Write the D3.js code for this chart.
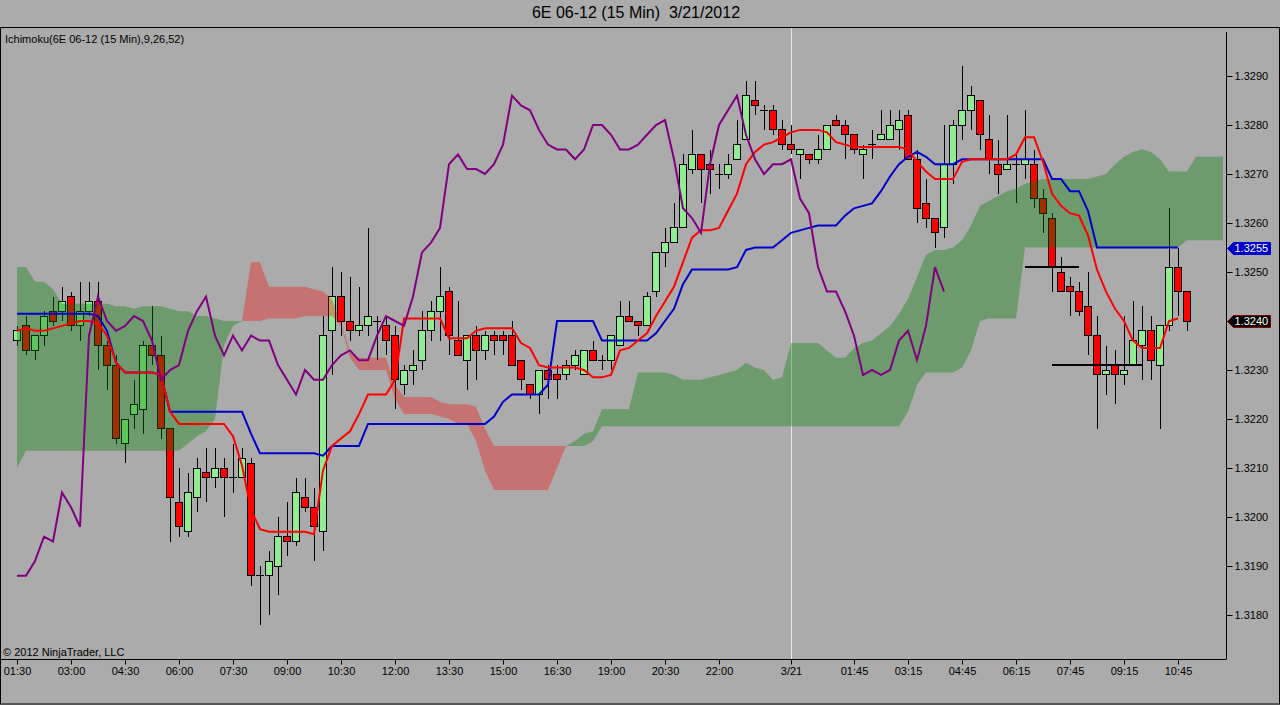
<!DOCTYPE html>
<html>
<head>
<meta charset="utf-8">
<script src="https://cdn.jsdelivr.net/npm/d3@7"></script>
<style>
  body { margin: 0; background: #ababab; }
  svg text { font-family: "Liberation Sans", Arial, sans-serif; }
</style>
</head>
<body>
<script>

// ichimoku chart, 6E 06-12, 15 min bars

const opens = [
  1.3236,1.3239,1.3234,1.3237,1.3242,1.3242,1.3245,1.3239,1.3242,1.3244,
  1.3235,1.3231,1.3215,1.3221,1.3222,1.3235,1.3233,1.3218,1.3203,1.3197,
  1.3204,1.3209,1.3208,1.3210,1.3208,1.3208,1.3211,1.3188,1.3188,1.3190,
  1.3196,1.3195,1.3204,1.3202,1.3197,1.3238,1.3245,1.3240,1.3238,1.3239,
  1.3240,1.3239,1.3237,1.3227,1.3230,1.3232,1.3238,1.3242,1.3246,1.3236,
  1.3232,1.3237,1.3234,1.3237,1.3237,1.3237,1.3232,1.3227,1.3225,1.3230,
  1.3229,1.3229,1.3231,1.3229,1.3234,1.3232,1.3232,1.3235,1.3241,1.3240,
  1.3239,1.3246,1.3254,1.3256,1.3259,1.3271,1.3274,1.3272,1.3270,1.3270,
  1.3273,1.3277,1.3285,1.3283,1.3283,1.3279,1.3276,1.3274,1.3274,1.3273,
  1.3275,1.3281,1.3280,1.3278,1.3274,1.3276,1.3277,1.3277,1.3279,1.3282,
  1.3273,1.3264,1.3261,1.3259,1.3272,1.3280,1.3283,1.3285,1.3277,1.3272,
  1.3271,1.3272,1.3272,1.3272,1.3265,1.3261,1.3250,1.3247,1.3246,1.3243,
  1.3237,1.3229,1.3231,1.3229,1.3231,1.3235,1.3238,1.3231,1.3239,1.3251,
  1.3246
];
const highs = [
  1.3239,1.3241,1.3237,1.3242,1.3245,1.3247,1.3246,1.3248,1.3248,1.3248,
  1.3236,1.3233,1.3220,1.3228,1.3236,1.3243,1.3237,1.3218,1.3210,1.3209,
  1.3212,1.3214,1.3214,1.3212,1.3215,1.3214,1.3212,1.3190,1.3193,1.3200,
  1.3203,1.3208,1.3208,1.3206,1.3241,1.3251,1.3250,1.3249,1.3247,1.3259,
  1.3241,1.3241,1.3239,1.3231,1.3234,1.3242,1.3244,1.3251,1.3247,1.3244,
  1.3237,1.3239,1.3238,1.3238,1.3238,1.3240,1.3232,1.3227,1.3230,1.3231,
  1.3231,1.3232,1.3234,1.3234,1.3236,1.3233,1.3237,1.3244,1.3244,1.3240,
  1.3246,1.3254,1.3259,1.3264,1.3274,1.3279,1.3274,1.3275,1.3272,1.3274,
  1.3281,1.3289,1.3289,1.3284,1.3284,1.3281,1.3280,1.3275,1.3274,1.3278,
  1.3280,1.3282,1.3281,1.3278,1.3276,1.3279,1.3283,1.3283,1.3283,1.3283,
  1.3275,1.3269,1.3261,1.3280,1.3281,1.3292,1.3288,1.3285,1.3282,1.3277,
  1.3282,1.3274,1.3283,1.3275,1.3267,1.3262,1.3253,1.3249,1.3248,1.3250,
  1.3241,1.3235,1.3234,1.3241,1.3244,1.3243,1.3241,1.3239,1.3263,1.3255,
  1.3246
];
const lows = [
  1.3235,1.3233,1.3232,1.3235,1.3239,1.3240,1.3238,1.3236,1.3241,1.3230,
  1.3226,1.3215,1.3211,1.3218,1.3217,1.3231,1.3216,1.3195,1.3196,1.3196,
  1.3201,1.3203,1.3206,1.3200,1.3205,1.3208,1.3186,1.3178,1.3180,1.3184,
  1.3192,1.3194,1.3201,1.3191,1.3193,1.3229,1.3237,1.3236,1.3237,1.3237,
  1.3232,1.3233,1.3222,1.3225,1.3227,1.3230,1.3236,1.3236,1.3233,1.3233,
  1.3226,1.3228,1.3232,1.3233,1.3233,1.3231,1.3226,1.3224,1.3221,1.3224,
  1.3224,1.3228,1.3230,1.3229,1.3232,1.3230,1.3230,1.3235,1.3240,1.3237,
  1.3239,1.3245,1.3251,1.3256,1.3259,1.3270,1.3264,1.3266,1.3267,1.3269,
  1.3273,1.3277,1.3282,1.3279,1.3278,1.3275,1.3274,1.3269,1.3272,1.3272,
  1.3275,1.3280,1.3273,1.3274,1.3269,1.3273,1.3277,1.3277,1.3275,1.3273,
  1.3260,1.3259,1.3255,1.3257,1.3268,1.3277,1.3279,1.3275,1.3270,1.3266,
  1.3271,1.3264,1.3269,1.3263,1.3258,1.3246,1.3246,1.3241,1.3241,1.3233,
  1.3218,1.3225,1.3223,1.3227,1.3231,1.3228,1.3228,1.3218,1.3238,1.3241,
  1.3238
];
const closes = [
  1.3238,1.3234,1.3237,1.3241,1.3240,1.3244,1.3239,1.3242,1.3244,1.3235,
  1.3231,1.3216,1.3220,1.3223,1.3235,1.3233,1.3218,1.3204,1.3198,1.3205,
  1.3210,1.3208,1.3210,1.3208,1.3208,1.3212,1.3188,1.3188,1.3191,1.3196,
  1.3195,1.3205,1.3202,1.3198,1.3237,1.3245,1.3240,1.3238,1.3239,1.3241,
  1.3240,1.3236,1.3228,1.3230,1.3231,1.3238,1.3242,1.3245,1.3237,1.3233,
  1.3237,1.3234,1.3237,1.3236,1.3236,1.3231,1.3228,1.3225,1.3230,1.3228,
  1.3228,1.3231,1.3233,1.3234,1.3232,1.3232,1.3237,1.3241,1.3240,1.3239,
  1.3245,1.3254,1.3256,1.3259,1.3272,1.3274,1.3271,1.3271,1.3270,1.3272,
  1.3276,1.3286,1.3284,1.3283,1.3279,1.3276,1.3275,1.3275,1.3273,1.3275,
  1.3280,1.3280,1.3278,1.3275,1.3275,1.3276,1.3278,1.3280,1.3281,1.3273,
  1.3263,1.3261,1.3258,1.3272,1.3280,1.3283,1.3286,1.3278,1.3273,1.3270,
  1.3272,1.3272,1.3273,1.3265,1.3262,1.3251,1.3246,1.3246,1.3242,1.3237,
  1.3229,1.3230,1.3229,1.3230,1.3236,1.3238,1.3232,1.3239,1.3251,1.3246,
  1.3240
];

// conversion line (9)
const tenkan = [
  1.3238,1.32385,1.3238,1.3238,1.32385,1.3239,1.32395,1.3240,1.3240,1.32395,
  1.3237,1.32315,1.32295,1.32295,1.32295,1.32295,1.3229,1.32215,1.3219,1.3219,
  1.3219,1.3219,1.3219,1.3219,1.32165,1.32105,1.32015,1.31975,1.3197,1.3197,
  1.3197,1.3197,1.3197,1.31965,1.32095,1.32145,1.3216,1.32175,1.3221,1.3225,
  1.3225,1.3225,1.3228,1.32405,1.32405,1.32405,1.32405,1.32405,1.32365,1.32365,
  1.32365,1.3238,1.32385,1.32385,1.32385,1.32385,1.32355,1.32345,1.3231,1.32305,
  1.32305,1.32305,1.32305,1.3230,1.32285,1.32285,1.3229,1.3234,1.32345,1.3236,
  1.32375,1.3241,1.3244,1.3247,1.3252,1.3257,1.32585,1.32585,1.3259,1.32625,
  1.3266,1.3272,1.32745,1.3276,1.32765,1.32775,1.32785,1.3279,1.3279,1.3279,
  1.32785,1.32765,1.3276,1.32755,1.32755,1.32755,1.32755,1.32755,1.32755,1.3275,
  1.32725,1.32705,1.3269,1.3269,1.3269,1.32725,1.3273,1.3273,1.3273,1.3273,
  1.3273,1.3274,1.32775,1.32775,1.32725,1.3266,1.32635,1.3262,1.32615,1.32575,
  1.32505,1.3246,1.32425,1.3240,1.3236,1.32345,1.32345,1.32345,1.3240,1.32405
];

// base line (26)
const kijun = [
  1.32415,1.32415,1.32415,1.32415,1.32415,1.32415,1.32415,1.32415,1.32415,1.3241,
  1.3238,1.32315,1.32295,1.32295,1.32295,1.32295,1.3229,1.32215,1.32215,1.32215,
  1.32215,1.32215,1.32215,1.32215,1.32215,1.32215,1.3217,1.3213,1.3213,1.3213,
  1.3213,1.3213,1.3213,1.3213,1.32125,1.32145,1.32145,1.32145,1.32145,1.3219,
  1.3219,1.3219,1.3219,1.3219,1.3219,1.3219,1.3219,1.3219,1.3219,1.3219,
  1.3219,1.3219,1.3219,1.32205,1.32235,1.3225,1.3225,1.3225,1.3225,1.3227,
  1.3240,1.3240,1.3240,1.3240,1.3240,1.3236,1.3236,1.3236,1.3236,1.3236,
  1.3236,1.32375,1.3240,1.32425,1.32475,1.32505,1.32505,1.32505,1.32505,1.32505,
  1.3251,1.32545,1.3255,1.3255,1.3255,1.32565,1.3258,1.32585,1.3259,1.32595,
  1.32595,1.32595,1.32615,1.3263,1.32635,1.3264,1.32665,1.32695,1.3272,1.32735,
  1.32745,1.32735,1.3272,1.3272,1.3272,1.3273,1.3273,1.3273,1.3273,1.3273,
  1.3273,1.3273,1.3273,1.3273,1.3273,1.3269,1.3269,1.32665,1.32665,1.32625,
  1.3255,1.3255,1.3255,1.3255,1.3255,1.3255,1.3255,1.3255,1.3255,1.3255
];

// leading spans, already shifted 26 bars ahead
const spanA = [
  1.3251,1.3251,1.3248,1.3248,1.32465,1.32435,1.32435,1.32435,1.32435,1.32435,
  1.32435,1.3243,1.3243,1.32425,1.3243,1.3243,1.3243,1.32425,1.3242,1.3242,
  1.3241,1.3241,1.32405,1.3240,1.3240,1.3240,1.3240,1.3240,1.32405,1.32405,
  1.32405,1.32405,1.3241,1.3241,1.3241,1.3241,1.3239,1.32325,1.3230,1.3230,
  1.3230,1.3230,1.3224,1.3221,1.3221,1.3221,1.3221,1.32205,1.3220,1.3219,
  1.3219,1.32155,1.32095,1.32055,1.32055,1.32055,1.32055,1.32055,1.32055,1.32055,
  1.3210,1.32145,1.32155,1.3217,1.32175,1.3222,1.3222,1.3222,1.3222,1.32295,
  1.32295,1.32295,1.32295,1.3229,1.3228,1.3228,1.3228,1.32285,1.3229,1.32295,
  1.3230,1.32315,1.32305,1.3230,1.3228,1.32285,1.32355,1.32355,1.32355,1.32355,
  1.3234,1.32325,1.32325,1.32345,1.32355,1.3236,1.32375,1.3239,1.32415,1.32445,
  1.3249,1.32535,1.32545,1.32545,1.3255,1.32565,1.32595,1.32635,1.32645,1.32655,
  1.32665,1.3267,1.3268,1.32685,1.3269,1.3269,1.3269,1.3269,1.3269,1.3269,
  1.32695,1.3270,1.3272,1.32735,1.32745,1.3275,1.32745,1.3273,1.32705,1.32705,
  1.32705,1.32735,1.32735,1.32735,1.32735
];
const spanB = [
  1.3210,1.32135,1.32135,1.32135,1.32135,1.32135,1.32135,1.32135,1.32135,1.32135,
  1.32135,1.32135,1.32135,1.32135,1.32135,1.32135,1.32135,1.32135,1.32135,1.3215,
  1.32165,1.32175,1.3220,1.3235,1.3239,1.3240,1.3252,1.3252,1.3247,1.3247,
  1.3247,1.3247,1.3247,1.32465,1.3246,1.32445,1.32395,1.3234,1.32325,1.32325,
  1.32325,1.32325,1.3227,1.32245,1.32245,1.32245,1.32245,1.32235,1.3223,1.3223,
  1.3223,1.32225,1.3218,1.32145,1.32145,1.32145,1.32145,1.32145,1.32145,1.32145,
  1.32145,1.32145,1.32145,1.32145,1.32155,1.32185,1.32185,1.32185,1.32185,1.32185,
  1.32185,1.32185,1.32185,1.32185,1.32185,1.32185,1.32185,1.32185,1.32185,1.32185,
  1.32185,1.32185,1.32185,1.32185,1.32185,1.32185,1.32185,1.32185,1.32185,1.32185,
  1.32185,1.32185,1.32185,1.32185,1.32185,1.32185,1.32185,1.32185,1.32185,1.32215,
  1.3227,1.32295,1.32295,1.32295,1.32295,1.32305,1.3234,1.3240,1.32405,1.32405,
  1.32405,1.32405,1.3255,1.3255,1.3255,1.3255,1.3255,1.3255,1.3255,1.3255,
  1.3255,1.3255,1.3255,1.3255,1.3255,1.3255,1.3255,1.3255,1.3255,1.3255,
  1.32565,1.32565,1.32565,1.32565,1.32565
];

// hand drawn horizontal lines: price, first bar, last bar
const drawnLevels = [1.3251, 1.3231];
const drawnFrom = [112, 115];
const drawnTo = [118, 125];

const priceTicks = [1.3180,1.3190,1.3200,1.3210,1.3220,1.3230,1.3240,1.3250,1.3260,1.3270,1.3280,1.3290];
const timeTickBars = [0,6,12,18,24,30,36,42,48,54,60,66,72,78,86,93,99,105,111,117,123,129];
const timeLabels = ["01:30","03:00","04:30","06:00","07:30","09:00","10:30","12:00","13:30","15:00","16:30",
  "19:00","20:30","22:00","3/21","01:45","03:15","04:45","06:15","07:45","09:15","10:45"];
const sessionBreakBar = 86;


function drawChart() {
  const width = 1280, height = 705;
  const plot = {left: 1, right: 1226, top: 28, bottom: 659};

  const svg = d3.select("body").append("svg")
    .attr("width", width)
    .attr("height", height);

  svg.append("rect")
    .attr("width", width).attr("height", height)
    .attr("fill", "#ababab");

  // scales: one bar every 9 px, price 49 px per 10 pips
  const x = d3.scaleLinear().domain([0, 134]).range([17, 1223]);
  const y = d3.scaleLinear().domain([1.3180, 1.3290]).range([615, 76]);

  svg.append("clipPath").attr("id", "plotclip")
    .append("rect")
    .attr("x", plot.left).attr("y", plot.top)
    .attr("width", plot.right - plot.left).attr("height", plot.bottom - plot.top);

  const g = svg.append("g").attr("clip-path", "url(#plotclip)");

  // session break
  g.append("line")
    .attr("x1", x(sessionBreakBar) + 0.5).attr("x2", x(sessionBreakBar) + 0.5)
    .attr("y1", plot.top).attr("y2", plot.bottom)
    .attr("stroke", "#e6e6e6").attr("stroke-width", 1);

  // candles
  const idx = d3.range(opens.length);
  const candles = g.append("g").attr("shape-rendering", "crispEdges");

  candles.selectAll(".wick")
    .data(idx)
    .enter().append("line")
    .attr("class", "wick")
    .attr("x1", i => x(i)).attr("x2", i => x(i))
    .attr("y1", i => y(highs[i])).attr("y2", i => y(lows[i]))
    .attr("stroke", "#000").attr("stroke-width", 1);

  candles.selectAll(".body")
    .data(idx.filter(i => opens[i] !== closes[i]))
    .enter().append("rect")
    .attr("class", "body")
    .attr("x", i => x(i) - 3.5)
    .attr("width", 7)
    .attr("y", i => y(Math.max(opens[i], closes[i])))
    .attr("height", i => Math.abs(y(opens[i]) - y(closes[i])))
    .attr("fill", i => closes[i] > opens[i] ? "#90ee90" : "#ff0000")
    .attr("stroke", "#000").attr("stroke-width", 1);

  candles.selectAll(".doji")
    .data(idx.filter(i => opens[i] === closes[i]))
    .enter().append("line")
    .attr("class", "doji")
    .attr("x1", i => x(i) - 4).attr("x2", i => x(i) + 4)
    .attr("y1", i => y(opens[i])).attr("y2", i => y(opens[i]))
    .attr("stroke", "#000").attr("stroke-width", 1);

  // cloud: split into runs where span A is above or below span B
  const runs = [];
  let cur = null;
  for (let i = 0; i < spanA.length; i++) {
    const d = spanA[i] - spanB[i];
    if (!cur) {
      cur = {up: d >= 0, a: [[i, spanA[i]]], b: [[i, spanB[i]]]};
      continue;
    }
    if (d !== 0 && (d > 0) !== cur.up) {
      const d0 = spanA[i - 1] - spanB[i - 1];
      const t = d0 / (d0 - d);
      const xc = i - 1 + t;
      const yc = spanA[i - 1] + t * (spanA[i] - spanA[i - 1]);
      cur.a.push([xc, yc]); cur.b.push([xc, yc]);
      runs.push(cur);
      cur = {up: d > 0, a: [[xc, yc]], b: [[xc, yc]]};
    }
    cur.a.push([i, spanA[i]]);
    cur.b.push([i, spanB[i]]);
  }
  runs.push(cur);

  const poly = d3.line().x(d => x(d[0])).y(d => y(d[1]));
  g.append("g").selectAll("path")
    .data(runs)
    .enter().append("path")
    .attr("d", r => poly(r.a.concat(r.b.slice().reverse())) + "Z")
    .attr("fill", r => r.up ? "rgba(0,128,0,0.36)" : "rgba(255,0,0,0.33)")
    .attr("stroke", "none");

  // indicator lines
  const line = d3.line().x((d, i) => x(i)).y(d => y(d));
  g.append("path").datum(kijun)
    .attr("d", line).attr("fill", "none")
    .attr("stroke", "#0000cc").attr("stroke-width", 2);
  g.append("path").datum(tenkan)
    .attr("d", line).attr("fill", "none")
    .attr("stroke", "#ff0000").attr("stroke-width", 2);

  // lagging span = closes drawn 26 bars back
  const chikou = closes.slice(26, 130);
  g.append("path").datum(chikou)
    .attr("d", line).attr("fill", "none")
    .attr("stroke", "#800080").attr("stroke-width", 2);

  // drawn levels
  g.selectAll(".level")
    .data(drawnLevels)
    .enter().append("line")
    .attr("class", "level")
    .attr("x1", (d, i) => x(drawnFrom[i])).attr("x2", (d, i) => x(drawnTo[i]))
    .attr("y1", d => y(d)).attr("y2", d => y(d))
    .attr("stroke", "#000").attr("stroke-width", 2);

  // frame
  svg.append("rect")
    .attr("x", 0.5).attr("y", 27.5).attr("width", width - 1).attr("height", height - 28.5)
    .attr("fill", "none").attr("stroke", "#000").attr("stroke-width", 1);

  // price axis
  svg.append("line")
    .attr("x1", plot.right + 0.5).attr("x2", plot.right + 0.5)
    .attr("y1", 32).attr("y2", plot.bottom)
    .attr("stroke", "#000");

  const yAxis = d3.axisRight(y)
    .tickValues(priceTicks)
    .tickFormat(d3.format(".4f"))
    .tickSize(6).tickPadding(2);
  const ya = svg.append("g")
    .attr("transform", "translate(" + (plot.right + 0.5) + ",0)")
    .call(yAxis);
  ya.select(".domain").remove();
  ya.selectAll("text").attr("font-family", null).style("font-size", "11px").attr("fill", "#000");

  // time axis
  svg.append("line")
    .attr("x1", 0).attr("x2", plot.right + 0.5)
    .attr("y1", plot.bottom + 0.5).attr("y2", plot.bottom + 0.5)
    .attr("stroke", "#000");

  const xAxis = d3.axisBottom(x)
    .tickValues(timeTickBars)
    .tickFormat((d, i) => timeLabels[i])
    .tickSize(5).tickPadding(3);
  const xa = svg.append("g")
    .attr("transform", "translate(0," + (plot.bottom + 0.5) + ")")
    .call(xAxis);
  xa.select(".domain").remove();
  xa.selectAll("text").attr("font-family", null).style("font-size", "11px").attr("fill", "#000");

  // last value markers
  function marker(value, fill, stroke) {
    const yy = Math.round(y(value)) + 0.5;
    const x0 = plot.right + 1.5;
    svg.append("path")
      .attr("d", "M" + x0 + "," + yy + "L" + (x0 + 6) + "," + (yy - 6) + "L1270.5," + (yy - 6) +
        "L1270.5," + (yy + 6) + "L" + (x0 + 6) + "," + (yy + 6) + "Z")
      .attr("fill", fill).attr("stroke", stroke);
    svg.append("text")
      .attr("x", x0 + 7).attr("y", yy).attr("dy", "0.35em")
      .style("font-size", "11px").attr("fill", "#fff")
      .text(d3.format(".4f")(value));
  }
  marker(kijun[kijun.length - 1], "#0000cc", "#0000cc");
  marker(closes[closes.length - 1], "#000", "#800000");

  // texts
  svg.append("text")
    .attr("x", 636).attr("y", 18)
    .attr("text-anchor", "middle")
    .style("font-size", "16px").style("white-space", "pre")
    .attr("fill", "#000")
    .text("6E 06-12 (15 Min)  3/21/2012");

  svg.append("text")
    .attr("x", 5).attr("y", 43)
    .style("font-size", "11px").attr("fill", "#000")
    .text("Ichimoku(6E 06-12 (15 Min),9,26,52)");

  svg.append("text")
    .attr("x", 3).attr("y", 656)
    .style("font-size", "11px").attr("fill", "#000")
    .text("© 2012 NinjaTrader, LLC");
}

window.onload = drawChart;
</script>
</body>
</html>
